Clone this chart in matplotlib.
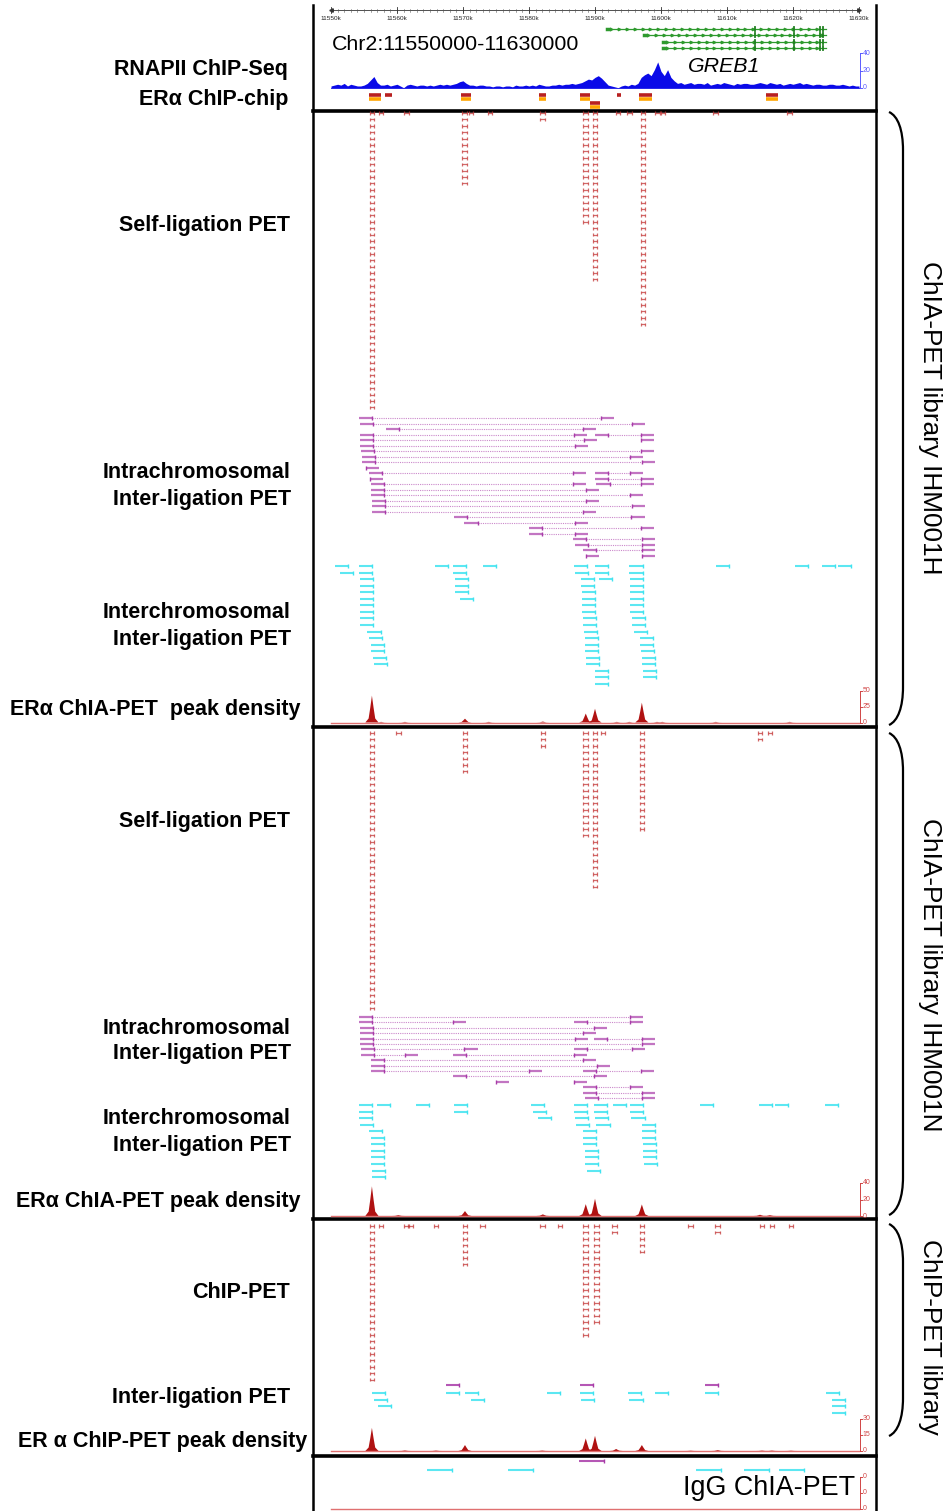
import numpy as np
import matplotlib
matplotlib.use('Agg')
import matplotlib.pyplot as plt
from matplotlib.collections import LineCollection
from matplotlib.path import Path
from matplotlib.patches import PathPatch

plt.rcParams['font.family'] = ['Liberation Sans', 'DejaVu Sans']

W, H = 948, 1511
KB0, KB1 = 11550, 11630
X0, X1 = 331, 859
PX = (X1 - X0) / (KB1 - KB0)

# ---- data (positions in kb) ----
ruler_ticks = [11550, 11560, 11570, 11580, 11590, 11600, 11610, 11620, 11630]

# RNAPII ChIP-seq coverage, 0.5 kb bins from 11550k
rnap = [2, 3, 4, 3, 5, 2, 4, 3, 2, 2, 3, 5, 9, 13, 6, 3, 3, 4, 2, 3,
        4, 2, 0, 3, 4, 3, 2, 3, 3, 2, 3, 2, 3, 4, 3, 4, 3, 4, 5, 7,
        8, 5, 3, 3, 2, 3, 3, 2, 2, 1, 2, 2, 1, 2, 2, 1, 3, 2, 2, 3,
        2, 3, 2, 4, 3, 2, 2, 3, 3, 4, 3, 4, 4, 5, 4, 5, 6, 8, 10, 9,
        12, 14, 11, 7, 3, 2, 1, 0, 2, 3, 2, 4, 3, 5, 12, 15, 17, 14, 21, 30,
        19, 14, 21, 12, 8, 5, 6, 4, 5, 6, 4, 5, 5, 4, 6, 3, 4, 5, 4, 6,
        5, 4, 3, 5, 4, 5, 5, 4, 4, 5, 6, 5, 4, 6, 5, 4, 5, 3, 4, 5,
        4, 5, 6, 4, 5, 4, 3, 4, 4, 3, 3, 4, 4, 3, 3, 4, 3, 2, 3, 2, 2]

genes = [(11591.8, 11625.0), (11597.4, 11625.0), (11600.3, 11625.0), (11600.3, 11625.0)]
exons = [11614.2, 11620.2, 11624.1, 11624.6]

# ERa ChIP-chip regions: start, end, row, with orange companion
chipchip = [(11555.8, 11557.5, 0, True), (11558.2, 11559.2, 0, False),
            (11569.7, 11571.2, 0, True), (11581.5, 11582.6, 0, True),
            (11587.8, 11589.3, 0, True), (11589.2, 11590.7, 1, True),
            (11593.3, 11593.9, 0, False), (11596.7, 11598.6, 0, True),
            (11615.9, 11617.7, 0, True)]

# self-ligation PET stacks: position, number of PETs
selflig1 = [(11556.2, 47), (11557.6, 1), (11561.4, 1), (11570.2, 12), (11571.2, 1),
            (11574.1, 1), (11582.0, 2), (11588.6, 18), (11590.0, 27), (11593.5, 1),
            (11595.2, 1), (11597.3, 34), (11599.5, 1), (11600.3, 1), (11608.3, 1),
            (11619.5, 1)]
selflig2 = [(11556.2, 44), (11560.2, 1), (11570.3, 7), (11582.1, 3), (11588.6, 17),
            (11590.0, 25), (11591.2, 1), (11597.1, 16), (11615.0, 2), (11616.5, 1)]
selflig3 = [(11556.2, 25), (11557.6, 1), (11561.4, 1), (11562.0, 1), (11565.9, 1),
            (11570.3, 7), (11573.0, 1), (11582.0, 1), (11584.7, 1), (11588.6, 18),
            (11590.2, 16), (11593.0, 2), (11597.1, 5), (11604.5, 1), (11608.6, 2),
            (11615.3, 1), (11616.8, 1), (11619.7, 1)]

# intrachromosomal inter-ligation PETs: row, left anchor, right anchor
intra1 = [(0, 11554.2, 11590.9), (1, 11554.4, 11595.6), (2, 11558.3, 11588.2),
          (3, 11554.4, 11586.8), (3, 11590.0, 11597.0), (4, 11554.4, 11588.3),
          (4, 11597.0, None), (5, 11554.4, 11587.0), (6, 11554.5, 11597.0),
          (7, 11554.7, 11595.3), (8, 11554.7, 11597.1), (9, 11555.3, None),
          (10, 11555.8, 11586.7), (10, 11590.0, 11595.3), (11, 11555.9, None),
          (11, 11590.0, 11597.0), (12, 11556.1, 11586.7), (12, 11590.2, 11597.0),
          (13, 11556.1, 11588.6), (14, 11556.1, 11595.3), (15, 11556.2, 11588.6),
          (16, 11556.2, 11595.6), (17, 11556.2, 11588.2), (18, 11568.6, 11595.5),
          (19, 11570.2, 11587.0), (20, 11580.0, 11597.0), (21, 11580.0, 11587.0),
          (22, 11586.7, 11597.1), (23, 11587.0, 11597.1), (24, 11588.2, 11597.1),
          (25, 11588.6, None), (25, 11597.1, None)]
intra2 = [(0, 11554.2, 11595.3), (1, 11554.2, 11568.5), (1, 11586.8, 11595.3),
          (2, 11554.4, 11589.8), (3, 11554.4, 11588.2), (4, 11554.4, 11587.0),
          (4, 11589.8, 11597.1), (5, 11554.4, 11597.1), (6, 11554.5, 11570.2),
          (6, 11586.8, 11595.6), (7, 11554.5, 11561.2), (7, 11568.5, 11586.8),
          (8, 11556.1, 11588.2), (9, 11556.1, 11590.3), (10, 11556.1, 11580.0),
          (10, 11588.2, 11597.0), (11, 11568.5, 11589.8), (12, 11575.0, None),
          (12, 11586.8, None), (13, 11588.2, 11595.3), (14, 11588.2, 11597.1),
          (15, 11588.5, 11597.1)]

# interchromosomal inter-ligation PET anchors, one list per row
inter1 = [[11550.6, 11554.2, 11565.8, 11568.5, 11573.0, 11586.8, 11590.0, 11595.2,
           11608.3, 11620.3, 11624.4, 11626.8],
          [11551.4, 11554.2, 11568.5, 11587.0, 11590.0, 11595.2],
          [11554.4, 11568.8, 11587.9, 11590.6, 11595.3],
          [11554.4, 11568.8, 11587.9, 11595.3],
          [11554.4, 11568.8, 11588.0, 11595.3],
          [11554.4, 11569.5, 11588.0, 11595.3],
          [11554.4, 11588.0, 11595.3],
          [11554.4, 11588.0, 11595.3],
          [11554.4, 11588.2, 11595.6],
          [11554.4, 11588.2, 11595.6],
          [11555.5, 11588.3, 11595.9],
          [11555.8, 11588.5, 11596.8],
          [11556.1, 11588.5, 11596.8],
          [11556.1, 11588.5, 11597.0],
          [11556.4, 11588.6, 11597.1],
          [11556.5, 11588.6, 11597.1],
          [11590.0, 11597.3],
          [11590.0, 11597.3],
          [11590.0]]
inter2 = [[11554.2, 11557.0, 11562.9, 11568.6, 11580.3, 11586.8, 11589.8, 11592.7,
           11595.3, 11605.9, 11614.8, 11617.3, 11624.8],
          [11554.2, 11568.6, 11580.6, 11586.8, 11589.8, 11595.3],
          [11554.2, 11581.4, 11587.0, 11590.0, 11595.5],
          [11554.4, 11587.1, 11590.2, 11597.1],
          [11555.8, 11588.2, 11597.1],
          [11556.1, 11588.2, 11597.1],
          [11556.1, 11588.2, 11597.3],
          [11556.1, 11588.5, 11597.3],
          [11556.1, 11588.5, 11597.3],
          [11556.1, 11588.5, 11597.4],
          [11556.2, 11588.8],
          [11556.2]]

chip_intra = [11567.4, 11587.7, 11606.7]
chip_inter = [[11556.2, 11567.4, 11570.3, 11582.7, 11587.7, 11595.0, 11599.1, 11606.7, 11625.0],
              [11556.5, 11571.2, 11587.9, 11595.2, 11625.9],
              [11557.1, 11625.9],
              [11625.9]]

igg_intra = [11587.6]
igg_inter = [11564.5, 11576.8, 11605.3, 11612.6, 11617.9]

# peak density: position, height
density1 = [(11556.2, 42), (11557.6, 1), (11561.2, 1), (11570.3, 6), (11573.9, 1),
            (11582.1, 1.5), (11588.6, 14), (11590.0, 21.5), (11593.3, 1), (11595.2, 1),
            (11597.1, 31), (11599.4, 1), (11600.2, 1), (11608.3, 1), (11619.5, 1)]
density2 = [(11556.2, 36), (11560.2, 1), (11570.3, 6), (11582.1, 2), (11588.6, 14.4),
            (11590.0, 21), (11597.1, 14), (11615.0, 1.5), (11616.5, 1)]
density3 = [(11556.2, 21.7), (11561.2, 0.5), (11565.9, 0.4), (11570.3, 5.6), (11582.0, 0.4),
            (11588.6, 11.8), (11590.0, 14.2), (11593.2, 1.9), (11597.1, 5.6), (11604.5, 0.3),
            (11608.6, 0.8), (11615.3, 0.4), (11616.8, 0.4), (11619.7, 0.3)]

# ---- figure ----
fig = plt.figure(figsize=(W / 100, H / 100), dpi=100)
pa = fig.add_axes([0, 0, 1, 1])
pa.set_xlim(0, W)
pa.set_ylim(H, 0)
pa.axis('off')
ax = fig.add_axes([0, 0, 1, 1])
ax.set_xlim(KB0 - X0 / PX, KB0 + (W - X0) / PX)
ax.set_ylim(H, 0)
ax.axis('off')

RED = '#c43838'
MAG = '#a83aa8'
CYAN = '#3fe3f0'
PEAK = '#b01212'


def self_lig(cols, y0, step=6.4):
    segs = []
    for pos, n in cols:
        for i in range(n):
            y = y0 + i * step
            segs += [[(pos - 0.35, y), (pos + 0.35, y)],
                     [(pos - 0.35, y - 1.7), (pos - 0.35, y + 1.7)],
                     [(pos + 0.35, y - 1.7), (pos + 0.35, y + 1.7)]]
    ax.add_collection(LineCollection(segs, colors=RED, linewidths=0.9, alpha=0.75))


def intra(pets, y0, step, w=2.0):
    solid, ticks, dots = [], [], []
    for row, l, r in pets:
        y = y0 + row * step
        if r is None:
            solid.append([(l, y), (l + w, y)])
            ticks.append([(l, y - 2), (l, y + 2)])
            continue
        solid.append([(l, y), (l + w, y)])
        ticks.append([(l + w, y - 2), (l + w, y + 2)])
        solid.append([(r, y), (r + w, y)])
        ticks.append([(r, y - 2), (r, y + 2)])
        dots.append([(l + w, y), (r, y)])
    ax.add_collection(LineCollection(dots, colors=MAG, linewidths=0.8, linestyles=(0, (1, 1)), alpha=0.6))
    ax.add_collection(LineCollection(solid, colors=MAG, linewidths=1.6, alpha=0.7))
    ax.add_collection(LineCollection(ticks, colors=MAG, linewidths=1.0))


def inter(rows, y0, step, w=2.0, color=CYAN):
    solid, ticks = [], []
    for i, row in enumerate(rows):
        y = y0 + i * step
        for s in row:
            solid.append([(s, y), (s + w, y)])
            ticks.append([(s + w, y - 2), (s + w, y + 2)])
    ax.add_collection(LineCollection(solid, colors=color, linewidths=1.5, alpha=0.85))
    ax.add_collection(LineCollection(ticks, colors=color, linewidths=1.0))


def scale_bar(base, top, labels, color):
    x = KB1 + 0.15
    ax.plot([x, x], [top, base], color=color, lw=0.7)
    for lab, y in zip(labels, np.linspace(top, base, len(labels))):
        ax.plot([x, x + 0.35], [y, y], color=color, lw=0.7)
        ax.text(x + 0.45, y, lab, color=color, fontsize=5, va='center', ha='left')


def density(peaks, base, top, vmax, labels):
    unit = (base - top) / vmax
    ax.plot([KB0, KB1], [base, base], color='#e07070', lw=1.0)
    for c, h in peaks:
        ax.fill([c - 1.0, c - 0.5, c - 0.25, c, c + 0.25, c + 0.5, c + 1.0],
                [base, base - 0.15 * h * unit, base - 0.55 * h * unit, base - h * unit,
                 base - 0.55 * h * unit, base - 0.15 * h * unit, base],
                color=PEAK, lw=0)
    scale_bar(base, top, labels, '#d04545')


# ruler
ax.plot([KB0, KB1], [10, 10], color='#333333', lw=0.6)
for k in range(KB0, KB1 + 1):
    ax.plot([k, k], [8.5, 11.5], color='#555555', lw=0.4)
for t in ruler_ticks:
    ax.plot([t, t], [7, 13], color='#333333', lw=0.6)
    ax.text(t, 18, '%dk' % t, fontsize=4.6, ha='center', va='center', color='#222222')
ax.plot([KB0], [10], marker='<', ms=2.5, color='#333333')
ax.plot([KB1], [10], marker='>', ms=2.5, color='#333333')

# gene models
gene_y = [29, 35, 42, 48]
for (s, e), y in zip(genes, gene_y):
    ax.plot([s, e], [y, y], color='#2e9a2e', lw=0.9)
    arrows = np.arange(s + 0.6, e - 0.3, 1.2)
    ax.plot(arrows, [y] * len(arrows), ls='none', marker='>', ms=1.8, color='#2e9a2e')
    ax.plot([s, s + 0.3], [y, y], color='#2e9a2e', lw=2.5)
    for ex in exons:
        ax.plot([ex, ex], [y - 2.2, y + 2.2], color='#1f7f1f', lw=1.3)

pa.text(332, 44, 'Chr2:11550000-11630000', fontsize=15.4, ha='left', va='center')
pa.text(688, 66, 'GREB1', fontsize=15.4, style='italic', ha='left', va='center')

# RNAPII ChIP-seq
xs = KB0 + 0.5 * np.arange(len(rnap))
base_r, top_r = 87.7, 53.3
ax.fill_between(xs, base_r, base_r - np.array(rnap) * (base_r - top_r) / 40,
                color='#0a0ae8', lw=0)
ax.plot([KB0, KB1], [base_r, base_r], color='#0a0ae8', lw=0.6)
scale_bar(base_r, top_r, ['40', '20', '0'], '#5a5aff')

# ERa ChIP-chip
for s, e, row, orange in chipchip:
    y = 95 + row * 8.3
    ax.plot([s, e], [y, y], color='#b82020', lw=2.6, solid_capstyle='butt')
    if orange:
        ax.plot([s, e], [y + 4, y + 4], color='#ffa500', lw=2.6, solid_capstyle='butt')

# panel 1
self_lig(selflig1, 113)
intra(intra1, 418, 5.5)
inter(inter1, 566, 6.55)
density(density1, 722.5, 690.5, 50, ['50', '25', '0'])

# panel 2
self_lig(selflig2, 733)
intra(intra2, 1017, 5.4)
inter(inter2, 1105, 6.55)
density(density2, 1216, 1183, 40, ['40', '20', '0'])

# panel 3
self_lig(selflig3, 1226)
inter([chip_intra], 1385, 6.7, color=MAG)
inter(chip_inter, 1393, 6.7)
density(density3, 1451, 1419, 30, ['30', '15', '0'])

# panel 4 IgG
inter([igg_intra], 1461, 6.7, w=3.8, color=MAG)
inter([igg_inter], 1470, 6.7, w=3.8)
ax.plot([KB0, KB1], [1509, 1509], color='#e07070', lw=1.0)
scale_bar(1509, 1477, ['0', '0', '0'], '#d04545')
pa.text(855, 1488, 'IgG ChIA-PET', fontsize=19.4, ha='right', va='center')

# frames
pa.plot([313, 313], [5, H], color='black', lw=1.8)
pa.plot([876, 876], [5, H], color='black', lw=1.8)
for y in [110.5, 727, 1219, 1455.5]:
    pa.plot([313, 876], [y, y], color='black', lw=2.6)

# braces
for top, bot in [(112, 725), (733, 1215), (1224, 1436)]:
    verts = [(889, top), (898, top + 4), (903, top + 18), (903, top + 38),
             (903, bot - 38),
             (903, bot - 18), (898, bot - 4), (889, bot)]
    codes = [Path.MOVETO, Path.CURVE4, Path.CURVE4, Path.CURVE4, Path.LINETO,
             Path.CURVE4, Path.CURVE4, Path.CURVE4]
    pa.add_patch(PathPatch(Path(verts, codes), fill=False, lw=1.6, color='black'))

pa.text(930, 418, 'ChIA-PET library IHM001H', rotation=-90, fontsize=18.9, ha='center', va='center')
pa.text(930, 975, 'ChIA-PET library IHM001N', rotation=-90, fontsize=18.9, ha='center', va='center')
pa.text(930, 1337, 'ChIP-PET library', rotation=-90, fontsize=18.9, ha='center', va='center')

# left labels
labels = [('RNAPII ChIP-Seq', 288, 68), ('ERα ChIP-chip', 288, 98),
          ('Self-ligation PET', 290, 225),
          ('Intrachromosomal', 291, 472), ('Inter-ligation PET', 291, 499),
          ('Interchromosomal', 291, 611), ('Inter-ligation PET', 291, 638),
          ('ERα ChIA-PET  peak density', 301, 708),
          ('Self-ligation PET', 290, 820),
          ('Intrachromosomal', 291, 1027), ('Inter-ligation PET', 291, 1053),
          ('Interchromosomal', 291, 1118), ('Inter-ligation PET', 291, 1145),
          ('ERα ChIA-PET peak density', 301, 1201),
          ('ChIP-PET', 290, 1292), ('Inter-ligation PET', 290, 1396),
          ('ER α ChIP-PET peak density', 307, 1441)]
for txt, x, y in labels:
    pa.text(x, y + 1, txt, fontsize=15.5, fontweight='bold', ha='right', va='center')

fig.savefig('out.png', dpi=100)
